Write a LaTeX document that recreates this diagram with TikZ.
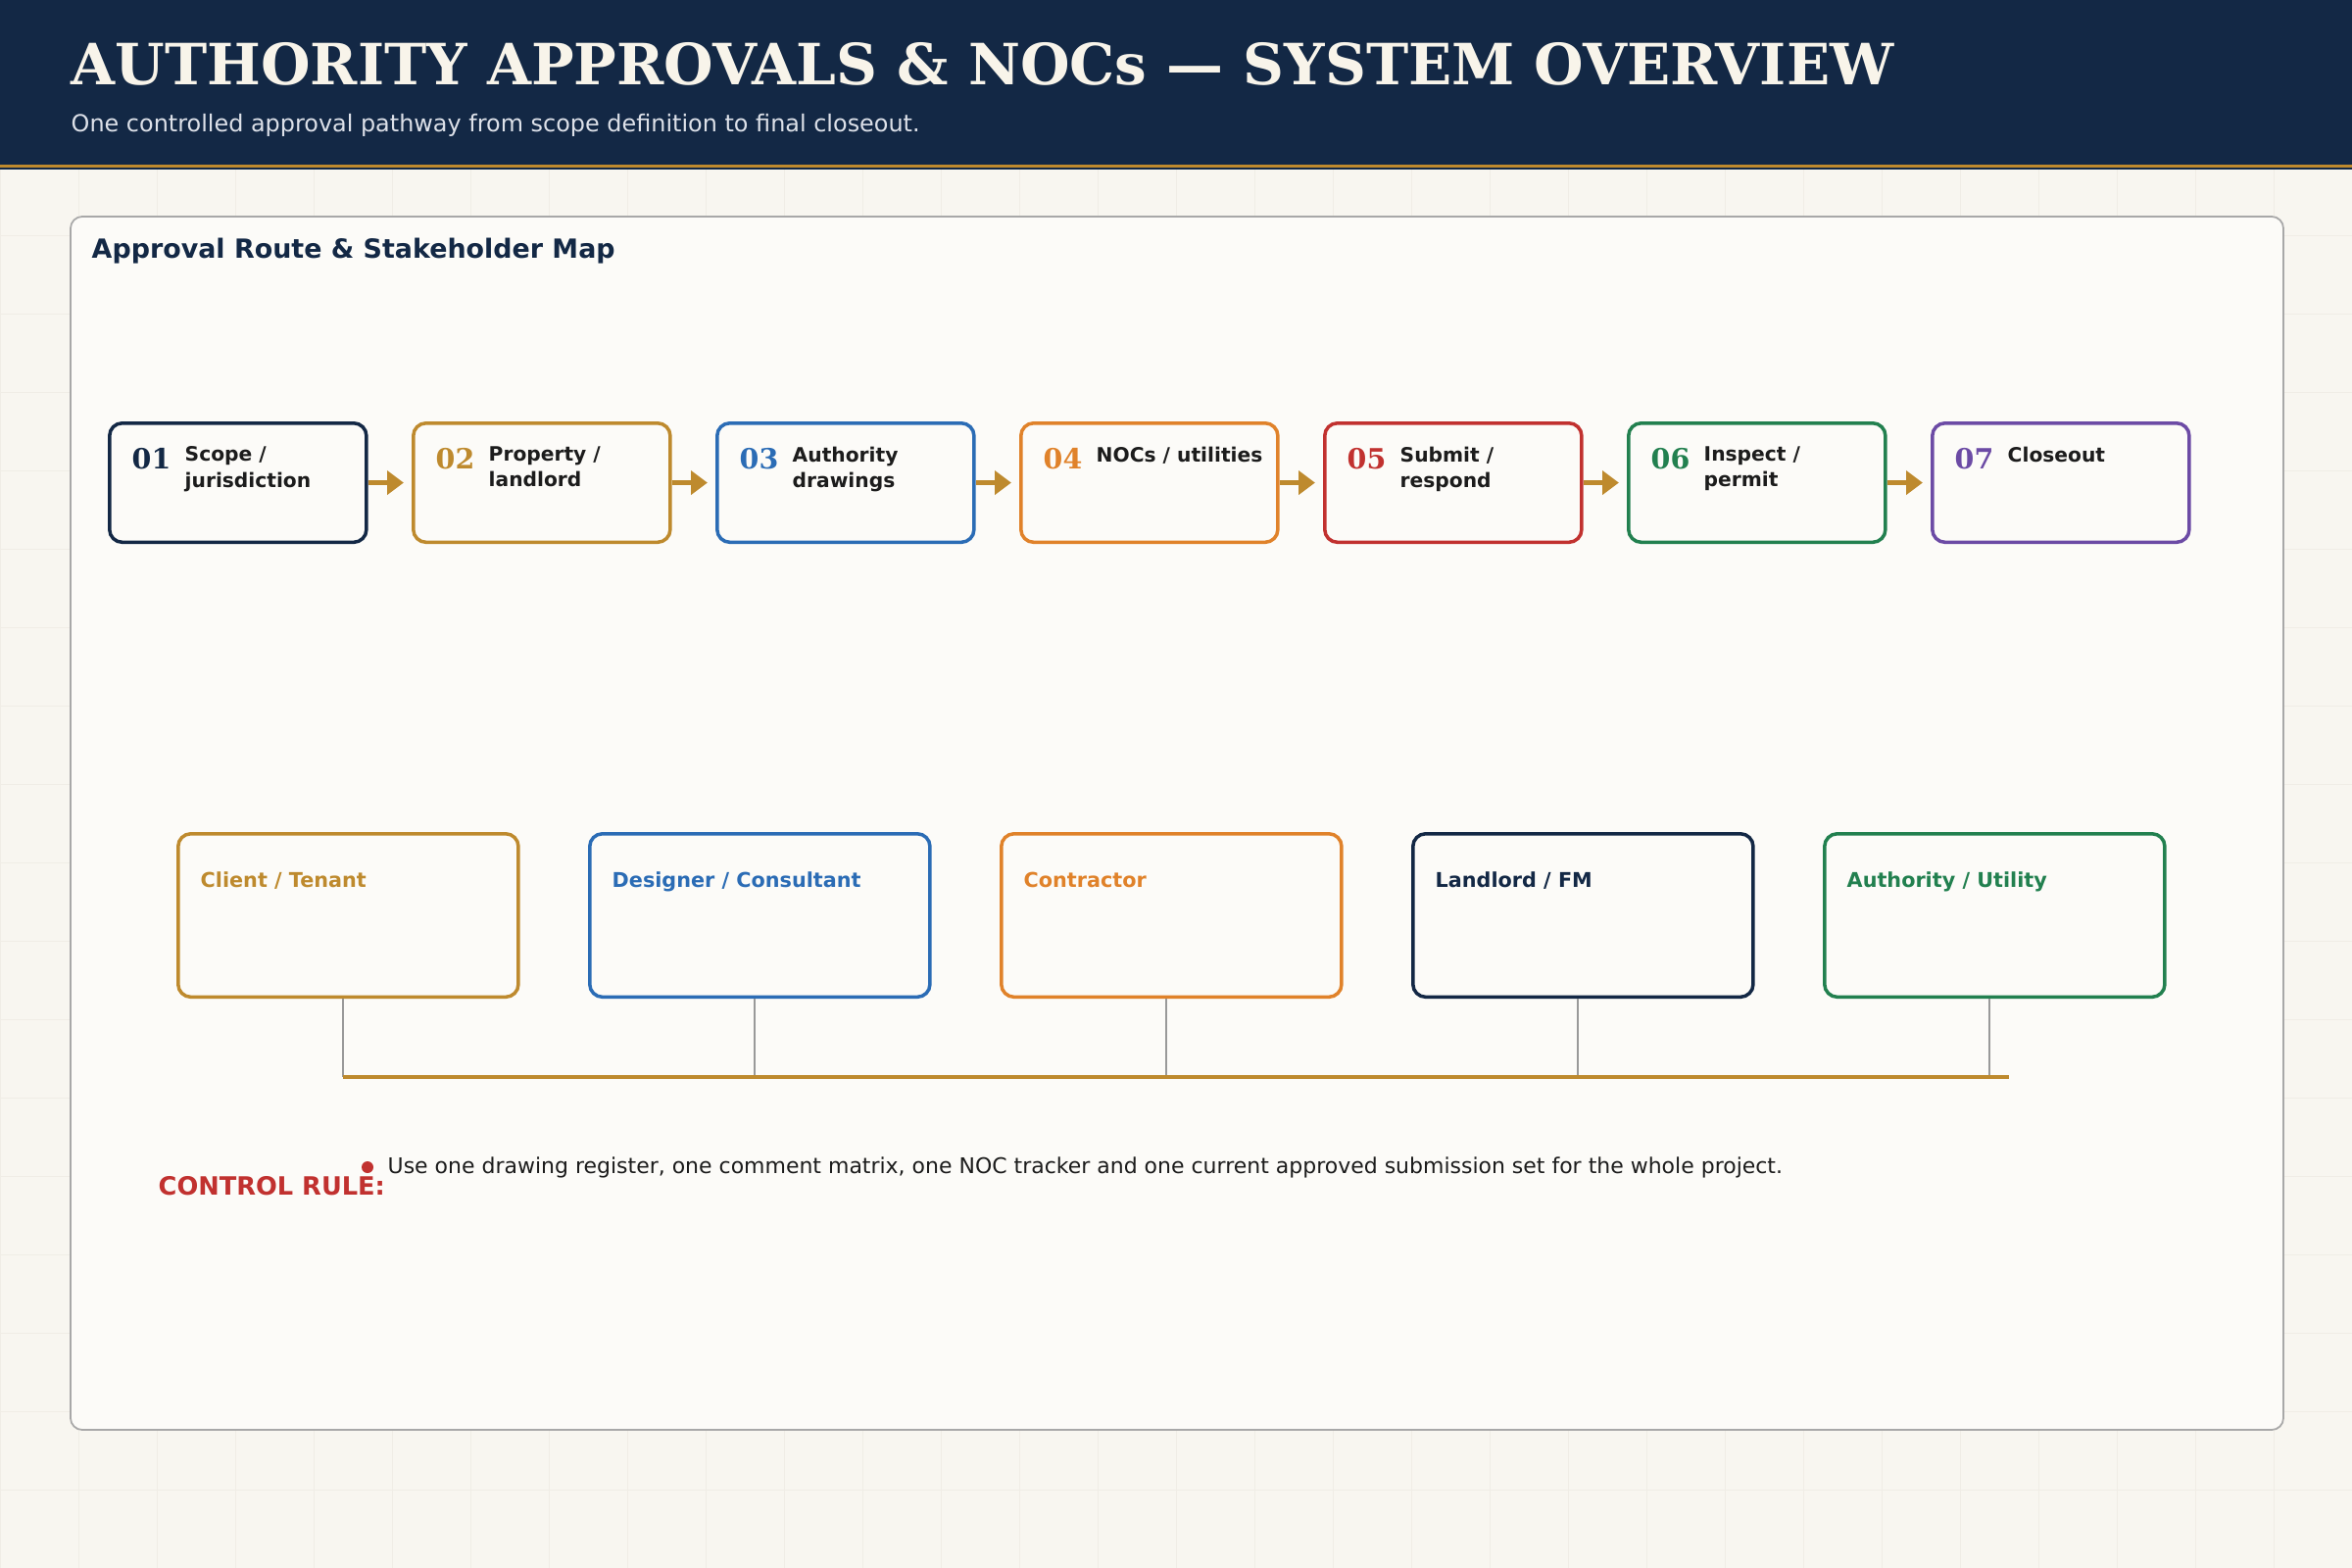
\documentclass[tikz,border=0pt]{standalone}
\usepackage{fontspec}
\setmainfont{DejaVu Sans}
\newfontfamily\titleserif{DejaVu Serif}
\usetikzlibrary{arrows.meta, calc}
\definecolor{navy}{HTML}{132845}
\definecolor{gold}{HTML}{BE8A2E}
\definecolor{stepblue}{HTML}{2B6CB5}
\definecolor{steporange}{HTML}{E0822A}
\definecolor{stepred}{HTML}{C1312F}
\definecolor{stepgreen}{HTML}{22804F}
\definecolor{steppurple}{HTML}{6C4BA5}
\definecolor{pagebg}{HTML}{F8F6F0}
\definecolor{gridcol}{HTML}{F0EDE6}
\definecolor{panelbg}{HTML}{FCFBF8}
\definecolor{panelline}{HTML}{A8A8A8}
\definecolor{cream}{HTML}{F8F4EA}
\definecolor{subtext}{HTML}{DDE1E9}
\definecolor{inktext}{HTML}{1C1C1C}
\definecolor{tiegray}{HTML}{999999}
\newcommand{\stepgap}{310}
\newcommand{\rolegap}{420}

\begin{document}
\begin{tikzpicture}[x=0.01cm, y=-0.01cm,
	stepbox/.style={draw=#1, line width=1pt, rounded corners=3.7pt, fill=panelbg, minimum width=2.62cm, minimum height=1.215cm, inner sep=0pt, anchor=north west},
	rolebox/.style={draw=#1, line width=1pt, rounded corners=3.7pt, fill=panelbg, minimum width=3.47cm, minimum height=1.665cm, inner sep=0pt, anchor=north west},
	numtext/.style={text=#1, inner sep=0pt, anchor=base west, font=\titleserif\bfseries\fontsize{8.1}{9}\selectfont},
	steptext/.style={text=inktext, inner sep=0pt, anchor=north west, align=left, font=\bfseries\fontsize{5.75}{7.5}\selectfont},
	roletext/.style={text=#1, inner sep=0pt, anchor=base west, font=\bfseries\fontsize{5.9}{7.1}\selectfont},
	flowarrow/.style={draw=gold, line width=1.6pt, -{Triangle[length=4.8pt, width=6.8pt]}, shorten >=2.3pt},
	tie/.style={draw=tiegray, line width=0.6pt},
	gridline/.style={draw=gridcol, line width=0.25pt}]
	\useasboundingbox (0,0) rectangle (2400,1600);
		% background and grid
		\fill[pagebg] (0,0) rectangle (2400,1600);
		\foreach \gx in {0,80,...,2400} {
			\draw[gridline] (\gx,0) -- (\gx,1600);
		};
		\foreach \gy in {0,80,...,1600} {
			\draw[gridline] (0,\gy) -- (2400,\gy);
		};
		% header band
		\fill[navy] (0,0) rectangle (2400,168);
		\fill[gold] (0,168) rectangle (2400,171.5);
		\fill[navy] (0,171.5) rectangle (2400,173);
		\node[anchor=base west, inner sep=0pt, text=cream, font=\titleserif\bfseries\fontsize{16.5}{20}\selectfont] (title) at (72,87) {AUTHORITY APPROVALS \& NOCs — SYSTEM OVERVIEW};
		\node[anchor=base west, inner sep=0pt, text=subtext, font=\fontsize{6.8}{8}\selectfont] (subtitle) at (72,135) {One controlled approval pathway from scope definition to final closeout.};
		% main panel
		\draw[panelline, fill=panelbg, line width=0.5pt, rounded corners=3.4pt] (72,221) rectangle (2330,1459);
		\node[anchor=base west, inner sep=0pt, text=navy, font=\bfseries\fontsize{7.65}{9}\selectfont] (paneltitle) at (93,263) {Approval Route \& Stakeholder Map};
		% approval steps
		\foreach \i/\c/\t in {1/navy/{Scope /\\jurisdiction}, 2/gold/{Property /\\landlord}, 3/stepblue/{Authority\\drawings}, 4/steporange/{NOCs / utilities}, 5/stepred/{Submit /\\respond}, 6/stepgreen/{Inspect /\\permit}, 7/steppurple/{Closeout}} {
			\node[stepbox=\c] (s\i) at ({110+\stepgap*(\i-1)},430) {}; % step box
			\node[numtext=\c] (n\i) at ($(s\i.north west)+(24,48)$) {0\i}; % step number
			\node[steptext] (t\i) at ($(s\i.north west)+(78,25)$) {\t}; % step name
		};
		\foreach \i/\j in {1/2, 2/3, 3/4, 4/5, 5/6, 6/7} {
			\draw[flowarrow] (s\i.east) -- (s\j.west); % hand over to next step
		};
		% stakeholders
		\foreach \i/\c/\t in {1/gold/{Client / Tenant}, 2/stepblue/{Designer / Consultant}, 3/steporange/{Contractor}, 4/navy/{Landlord / FM}, 5/stepgreen/{Authority / Utility}} {
			\node[rolebox=\c] (h\i) at ({180+\rolegap*(\i-1)},849) {}; % stakeholder box
			\node[roletext=\c] (r\i) at ($(h\i.north west)+(24,56)$) {\t}; % stakeholder name
		};
		\coordinate (busY) at (0,1099);
		\coordinate (busL) at ($(h1.south |- busY)+(-5,0)$);
		\coordinate (busR) at ($(h5.south |- busY)+(15,0)$);
		\foreach \i in {1,...,5} {
			\draw[tie] ($(h\i.south)+(-5,0)$) -- ($(h\i.south |- busY)+(-5,0)$); % drop to the bus
		};
		\draw[draw=gold, line width=1.35pt] (busL) -- (busR);
		% control rule
		\node[anchor=base west, inner sep=0pt, text=stepred, font=\bfseries\fontsize{7.3}{8.5}\selectfont] (rulehead) at (161,1219) {CONTROL RULE:};
		\node[circle, fill=stepred, inner sep=0pt, minimum size=0.12cm] (ruledot) at (375,1191) {};
		\node[anchor=base west, inner sep=0pt, text=inktext, font=\fontsize{6.25}{7.5}\selectfont] (ruletext) at (395,1197) {Use one drawing register, one comment matrix, one NOC tracker and one current approved submission set for the whole project.};
	\end{tikzpicture}
\end{document}
